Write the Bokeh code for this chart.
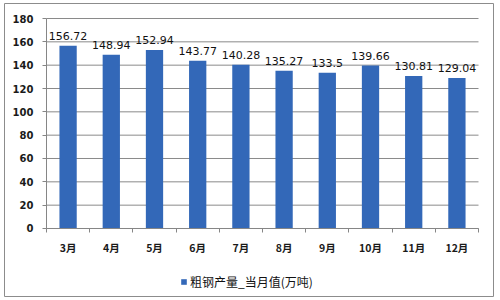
from bokeh.plotting import figure
from bokeh.models import (ColumnDataSource, FixedTicker, LabelSet, Legend, LegendItem,
                          Range1d, LinearAxis)
from bokeh.core.properties import value
from bokeh.embed import file_html
from bokeh.resources import INLINE

months = ["3月", "4月", "5月", "6月", "7月", "8月", "9月", "10月", "11月", "12月"]
values = [156.72, 148.94, 152.94, 143.77, 140.28, 135.27, 133.5, 139.66, 130.81, 129.04]
labels = ["156.72", "148.94", "152.94", "143.77", "140.28", "135.27", "133.5", "139.66", "130.81", "129.04"]
series_name = "粗钢产量_当月值(万吨)"
y_ticks = [0, 20, 40, 60, 80, 100, 120, 140, 160, 180]

n = len(months)
xs = list(range(n))
src = ColumnDataSource(dict(x=xs, top=values, label=labels))
grid_src = ColumnDataSource(dict(x0=[-0.5] * len(y_ticks), x1=[n - 0.5] * len(y_ticks),
                                 y=y_ticks))

# frame = outer bordered box; axes are placed inside it at fixed locations
p = figure(width=500, height=300, output_backend="svg", toolbar_location=None,
           x_range=Range1d(-1.472, 9.847), y_range=Range1d(-58.29, 192.86),
           x_axis_location=None, y_axis_location=None,
           min_border_left=4, min_border_right=7, min_border_top=3, min_border_bottom=4)
p.outline_line_color = "#8c8c8c"
p.outline_line_width = 1
p.background_fill_color = "white"
p.border_fill_color = "white"
p.xgrid.visible = False
p.ygrid.visible = False

# horizontal grid lines at the y ticks
p.segment(x0="x0", x1="x1", y0="y", y1="y", source=grid_src,
          line_color="#8a8a8a", line_width=1)

r = p.vbar(x="x", top="top", width=0.4, source=src, fill_color="#3368b8", line_color=None)

xa = LinearAxis(fixed_location=0, bounds=(-0.5, n - 0.5))
xa.ticker = FixedTicker(ticks=xs, minor_ticks=[i - 0.5 for i in range(n + 1)])
xa.major_label_overrides = {i: m for i, m in enumerate(months)}
xa.major_tick_line_color = None
xa.minor_tick_line_color = "#868686"
xa.minor_tick_out = 4
xa.minor_tick_in = 0
xa.axis_line_color = "#868686"
xa.major_label_text_font = "Noto Sans CJK SC"
xa.major_label_text_font_style = "bold"
xa.major_label_text_font_size = "10.5px"
xa.major_label_text_color = "#1a1a1a"
xa.major_label_standoff = 6
p.add_layout(xa, "below")

ya = LinearAxis(fixed_location=-0.5, bounds=(0, 180))
ya.ticker = FixedTicker(ticks=y_ticks)
ya.minor_tick_line_color = None
ya.major_tick_line_color = "#868686"
ya.major_tick_out = 4
ya.major_tick_in = 0
ya.axis_line_color = "#868686"
ya.major_label_text_font = "DejaVu Sans"
ya.major_label_text_font_style = "bold"
ya.major_label_text_font_size = "10px"
ya.major_label_text_color = "#1a1a1a"
ya.major_label_standoff = 9
p.add_layout(ya, "left")

labs = LabelSet(x="x", y="top", text="label", source=src, text_align="center",
                text_baseline="bottom", y_offset=6, text_font_size="11px",
                text_font=value("DejaVu Sans"), text_color="#111111")
p.add_layout(labs)

legend = Legend(items=[LegendItem(label=series_name, renderers=[r])],
                orientation="horizontal", location=(176, 6),
                label_text_font="Noto Sans CJK SC", label_text_font_size="12px",
                label_text_color="#111111", glyph_width=7, glyph_height=7,
                label_standoff=3, padding=0, margin=0, border_line_color=None,
                background_fill_alpha=0, spacing=0)
p.add_layout(legend, "center")

open("out.html", "w").write(file_html(p, INLINE))
